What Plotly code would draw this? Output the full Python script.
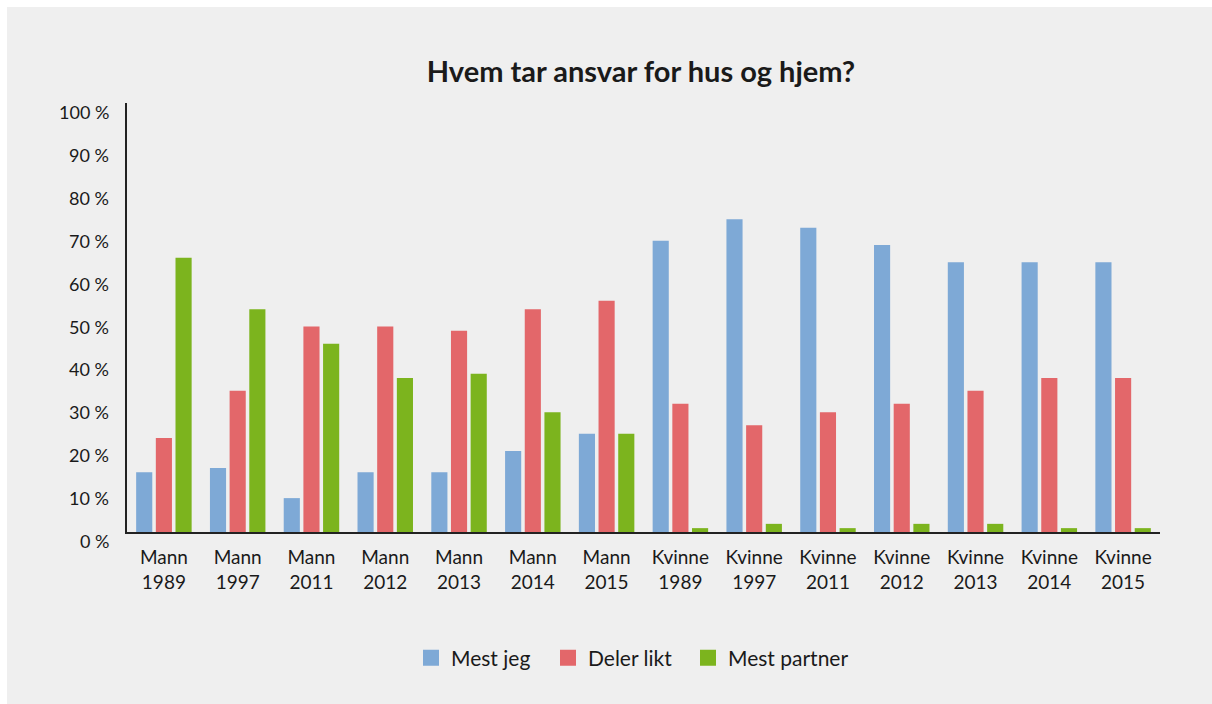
import plotly.graph_objects as go

# Survey data: share of respondents (percent) by group and year
categories = ["Mann<br>1989", "Mann<br>1997", "Mann<br>2011", "Mann<br>2012", "Mann<br>2013",
              "Mann<br>2014", "Mann<br>2015", "Kvinne<br>1989", "Kvinne<br>1997", "Kvinne<br>2011",
              "Kvinne<br>2012", "Kvinne<br>2013", "Kvinne<br>2014", "Kvinne<br>2015"]
mest_jeg = [16, 17, 10, 16, 16, 21, 25, 70, 75, 73, 69, 65, 65, 65]
deler_likt = [24, 35, 50, 50, 49, 54, 56, 32, 27, 30, 32, 35, 38, 38]
mest_partner = [66, 54, 46, 38, 39, 30, 25, 3, 4, 3, 4, 4, 3, 3]
series_names = ["Mest jeg", "Deler likt", "Mest partner"]
tick_values = [0, 10, 20, 30, 40, 50, 60, 70, 80, 90, 100]
tick_labels = [f"{v} %" for v in tick_values]

colors = ["#7ea9d6", "#e3676a", "#7cb41e"]
FONT = "Lato"
TEXT = "#1a1a1a"
BG = "#efefef"

W, H = 1212, 704
M_L, M_R, M_T, M_B = 127, 52, 103, 172
PW, PH = W - M_L - M_R, H - M_T - M_B
Y_LO, Y_HI = 2.1, 102.1
LEGEND_LEFT_PX = [411, 548, 688]


def px_to_paper_x(px):
    return (px - M_L) / PW


def px_to_paper_y(py):
    return (H - M_B - py) / PH


fig = go.Figure()
legend_ids = ["legend", "legend2", "legend3"]
for name, vals, col, lid in zip(series_names, [mest_jeg, deler_likt, mest_partner], colors, legend_ids):
    fig.add_trace(go.Bar(x=categories, y=vals, name=name, marker=dict(color=col, line=dict(width=0)),
                         showlegend=False, legendgroup=name))
    # legend entry with a larger square swatch
    fig.add_trace(go.Scatter(x=[None], y=[None], mode="markers", name=name, legendgroup=name,
                             marker=dict(symbol="square", size=16, color=col), showlegend=True,
                             legend=lid))

# y tick labels
annotations = []
for v, lab in zip(tick_values, tick_labels):
    annotations.append(dict(text=lab, xref="paper", yref="paper", x=0, xanchor="right", xshift=-16,
                            y=(v - Y_LO) / (Y_HI - Y_LO), yanchor="middle", showarrow=False,
                            font=dict(family=FONT, size=18, color=TEXT)))

shapes = [
    # white frame along the top and left edges
    dict(type="rect", xref="paper", yref="paper", x0=px_to_paper_x(0), x1=px_to_paper_x(W),
         y0=px_to_paper_y(7), y1=px_to_paper_y(0), fillcolor="white", line=dict(width=0), layer="below"),
    dict(type="rect", xref="paper", yref="paper", x0=px_to_paper_x(0), x1=px_to_paper_x(7),
         y0=px_to_paper_y(H), y1=px_to_paper_y(0), fillcolor="white", line=dict(width=0), layer="below"),
]

legend_style = dict(orientation="h", xanchor="left", y=px_to_paper_y(658), yanchor="middle",
                    font=dict(family=FONT, size=21, color=TEXT), bgcolor="rgba(0,0,0,0)")

fig.update_layout(
    width=W, height=H,
    margin=dict(l=M_L, r=M_R, t=M_T, b=M_B),
    paper_bgcolor=BG, plot_bgcolor=BG,
    barmode="group", bargap=0.2, bargroupgap=0.18,
    title=dict(text="<b>Hvem tar ansvar for hus og hjem?</b>", x=px_to_paper_x(641), xref="paper",
               xanchor="center", y=1 - 72 / H, yanchor="middle",
               font=dict(family=FONT, size=29, color=TEXT)),
    xaxis=dict(showgrid=False, zeroline=False, showline=True, linecolor="#222", linewidth=2,
               tickfont=dict(family=FONT, size=19, color=TEXT), ticks="", ticklabelstandoff=7),
    yaxis=dict(range=[Y_LO, Y_HI], showgrid=False, zeroline=False, showline=True, linecolor="#222",
               linewidth=1.5, showticklabels=False, ticks=""),
    legend=dict(x=px_to_paper_x(LEGEND_LEFT_PX[0]), **legend_style),
    legend2=dict(x=px_to_paper_x(LEGEND_LEFT_PX[1]), **legend_style),
    legend3=dict(x=px_to_paper_x(LEGEND_LEFT_PX[2]), **legend_style),
    annotations=annotations,
    shapes=shapes,
    font=dict(family=FONT, color=TEXT),
)

fig.write_html("out.html")
